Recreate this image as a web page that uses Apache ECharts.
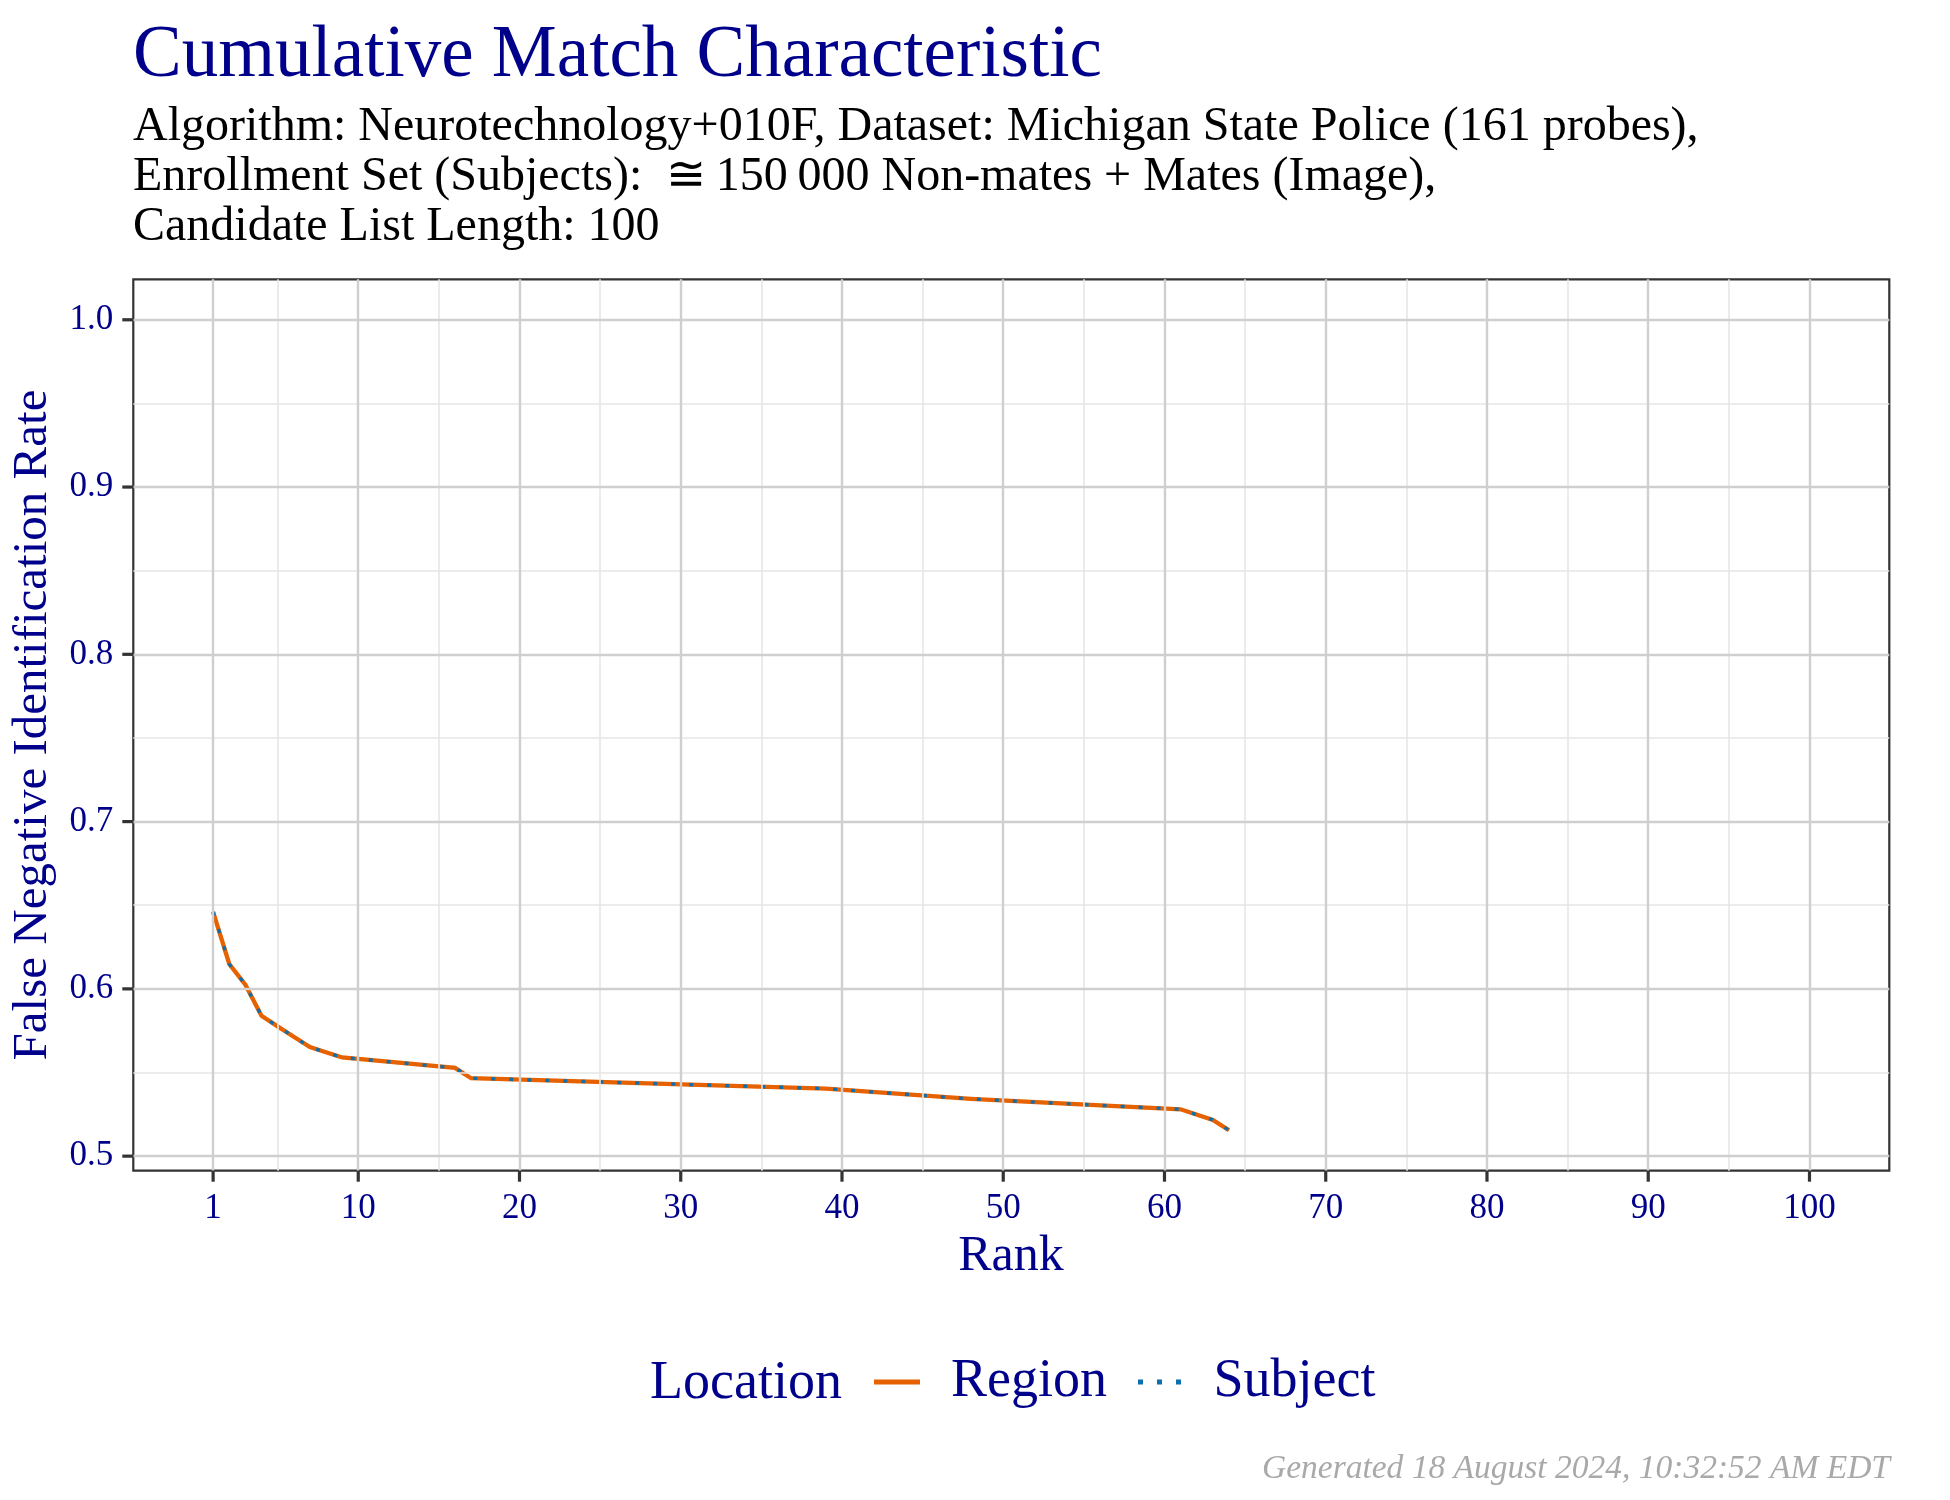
<!DOCTYPE html>
<html><head><meta charset="utf-8">
<script src="https://cdn.jsdelivr.net/npm/echarts@6/dist/echarts.min.js"></script>
<style>html,body{margin:0;padding:0;background:#fff}#c{width:1950px;height:1500px}</style>
</head><body><div id="c"></div>
<script>
// ---- data ----
const ranks = [1, 2, 3, 4, 5, 6, 7, 9, 16, 17, 39, 48, 61, 63, 64];
const regionFNIR  = [0.6460, 0.6149, 0.6025, 0.5839, 0.5776, 0.5714, 0.5652, 0.5590, 0.5528, 0.5466, 0.5404, 0.5342, 0.5280, 0.5217, 0.5155];
const subjectFNIR = [0.6460, 0.6149, 0.6025, 0.5839, 0.5776, 0.5714, 0.5652, 0.5590, 0.5528, 0.5466, 0.5404, 0.5342, 0.5280, 0.5217, 0.5155];
const xTickValues = [1, 10, 20, 30, 40, 50, 60, 70, 80, 90, 100];
const xMinorValues = [5, 15, 25, 35, 45, 55, 65, 75, 85, 95];
const yTickValues = [0.5, 0.6, 0.7, 0.8, 0.9, 1.0];
const yMinorValues = [0.55, 0.65, 0.75, 0.85, 0.95];
const seriesNames = ['Region', 'Subject'];
const titleText = 'Cumulative Match Characteristic';
const subtitleLines = [
  'Algorithm: Neurotechnology+010F, Dataset: Michigan State Police (161 probes),',
  'Enrollment Set (Subjects):  \u2245\u2009150\u2009000 Non-mates + Mates (Image),',
  'Candidate List Length: 100'
];
const xTitle = 'Rank';
const yTitle = 'False Negative Identification Rate';
const legendTitle = 'Location';
const captionText = 'Generated 18 August 2024, 10:32:52 AM EDT';

// axis limits (ggplot-style 5% expansion)
const X_MIN = -3.95, X_MAX = 104.95;
const Y_MIN = 0.4913, Y_MAX = 1.0242;

// ---- styling ----
const FONT = '"Liberation Serif", "DejaVu Serif", serif';
const NAVY = '#00008B';
const ORANGE = '#E66100';
const BLUE = '#0E6FAF';
const MAJOR = '#CFCFCF';
const MINOR = '#E6E6E6';
const DARK = '#333333';
const TICK_COLOR = DARK;
const TICK_LEN = 11;

const zip = (xs, ys) => xs.map((x, i) => [x, ys[i]]);

const gridLines = [];
xMinorValues.forEach(v => gridLines.push({xAxis: v, lineStyle: {color: MINOR, width: 1.6, type: 'solid'}}));
yMinorValues.forEach(v => gridLines.push({yAxis: v, lineStyle: {color: MINOR, width: 1.6, type: 'solid'}}));
xTickValues.forEach(v => gridLines.push({xAxis: v, lineStyle: {color: MAJOR, width: 2.4, type: 'solid'}}));
yTickValues.forEach(v => gridLines.push({yAxis: v, lineStyle: {color: MAJOR, width: 2.4, type: 'solid'}}));

const chart = echarts.init(document.getElementById('c'), null, {renderer: 'canvas'});

const graphics = [
  {type: 'text', left: 133, top: 20, silent: true, style: {text: titleText, font: '73px ' + FONT, fill: NAVY}},
];
subtitleLines.forEach((t, i) => graphics.push({
  type: 'text', x: 133, y: 127 + i * 50, silent: true,
  style: {text: t, font: '48px ' + FONT, fill: '#000', align: 'left', verticalAlign: 'middle'}
}));
graphics.push({type: 'text', x: 1011, y: 1257, silent: true,
  style: {text: xTitle, font: '50px ' + FONT, fill: NAVY, align: 'center', verticalAlign: 'middle'}});
graphics.push({type: 'text', x: 33, y: 725, rotation: Math.PI / 2, silent: true,
  style: {text: yTitle, font: '49px ' + FONT, fill: NAVY, align: 'center', verticalAlign: 'middle'}});
graphics.push({type: 'text', x: 650, y: 1384, silent: true,
  style: {text: legendTitle, font: '54px ' + FONT, fill: NAVY, align: 'left', verticalAlign: 'middle'}});
graphics.push({type: 'text', x: 1890, y: 1469, silent: true,
  style: {text: captionText, font: 'italic 33.5px ' + FONT, fill: '#A9A9A9', align: 'right', verticalAlign: 'middle'}});

// tick marks drawn through the axis scales (custom series)
const tickData = xTickValues.map(v => [v, Y_MIN, 0]).concat(yTickValues.map(v => [X_MIN, v, 1]));
function renderTick(params, api) {
  const p = api.coord([api.value(0), api.value(1)]);
  const isY = api.value(2) === 1;
  return {
    type: 'line', silent: true,
    shape: isY ? {x1: p[0] - TICK_LEN, y1: p[1], x2: p[0], y2: p[1]} : {x1: p[0], y1: p[1], x2: p[0], y2: p[1] + TICK_LEN},
    style: {stroke: TICK_COLOR, lineWidth: 3.2}
  };
}

const option = {
  animation: false,
  backgroundColor: '#fff',
  grid: {left: 133.3, right: 60.7, top: 279.3, bottom: 329.3, show: true, borderColor: DARK, borderWidth: 2.2, backgroundColor: 'transparent', z: 5},
  xAxis: [{
    type: 'value', min: X_MIN, max: X_MAX, position: 'bottom',
    axisLine: {show: false, onZero: false},
    splitLine: {show: false},
    axisTick: {show: false},
    axisLabel: {show: true, customValues: xTickValues, margin: 21, color: NAVY, fontFamily: FONT, fontSize: 35, formatter: v => String(v)}
  }],
  yAxis: [{
    type: 'value', min: Y_MIN, max: Y_MAX, position: 'left',
    axisLine: {show: false, onZero: false},
    splitLine: {show: false},
    axisTick: {show: false},
    axisLabel: {show: true, customValues: yTickValues, margin: 20, color: NAVY, fontFamily: FONT, fontSize: 35, formatter: v => v.toFixed(1)}
  }],
  legend: {
    data: [
      {name: seriesNames[0], icon: 'path://M0,0h46v5h-46z'},
      {name: seriesNames[1], icon: 'path://M0,0h5v5h-5z M19,0h5v5h-5z M38,0h5v5h-5z'}
    ],
    left: 869, top: 1350, orient: 'horizontal',
    itemWidth: 46, itemHeight: 5, itemGap: 31,
    textStyle: {color: NAVY, fontFamily: FONT, fontSize: 54, padding: [0, 0, 0, 26]},
    selectedMode: false
  },
  graphic: graphics,
  series: [
    {name: '_grid', type: 'line', data: [], z: 1, silent: true, symbol: 'none',
      markLine: {silent: true, symbol: ['none', 'none'], label: {show: false}, data: gridLines, animation: false}},
    {name: '_ticks', type: 'custom', data: tickData, renderItem: renderTick, clip: false, silent: true, z: 10},
    {name: seriesNames[0], type: 'line', data: zip(ranks, regionFNIR), z: 3, symbol: 'none', showSymbol: false,
      lineStyle: {color: ORANGE, width: 4.3, type: 'solid', cap: 'butt', join: 'miter'}, itemStyle: {color: ORANGE}},
    {name: seriesNames[1], type: 'line', data: zip(ranks, subjectFNIR), z: 4, symbol: 'none', showSymbol: false,
      lineStyle: {color: BLUE, width: 3.4, type: [4, 14], cap: 'butt'}, itemStyle: {color: BLUE}}
  ]
};
chart.setOption(option);
</script>
</body></html>
